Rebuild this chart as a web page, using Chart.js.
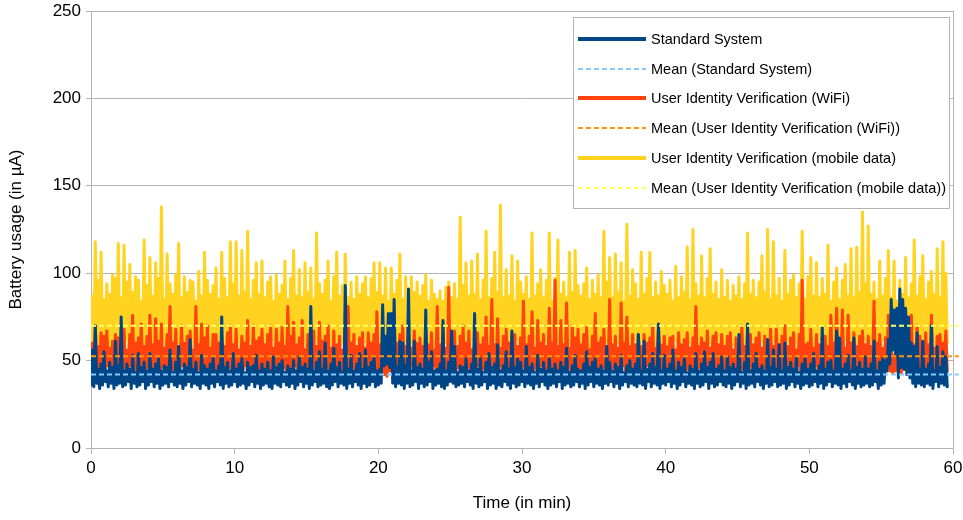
<!DOCTYPE html>
<html>
<head>
<meta charset="utf-8">
<title>Battery usage</title>
<script src="https://cdn.jsdelivr.net/npm/chart.js@4.4.0/dist/chart.umd.min.js"></script>
<style>
  html, body { margin: 0; padding: 0; background: #fff; }
</style>
</head>
<body>
<canvas id="usageChart" width="963" height="520"></canvas>
<script>
// one reading every 6 seconds
const sampleStep = 0.1

const standardSystem = [
  36, 56, 35, 70, 37, 45, 34, 48, 36, 55, 38, 44, 35, 49, 37, 46, 34, 61, 36, 47,
  37, 75, 35, 44, 36, 48, 38, 45, 34, 53, 37, 43, 35, 54, 36, 46, 38, 49, 34, 44,
  36, 54, 38, 45, 35, 48, 37, 51, 34, 44, 36, 47, 37, 46, 35, 56, 38, 43, 36, 49,
  35, 58, 37, 44, 34, 48, 36, 46, 38, 62, 35, 45, 37, 49, 36, 43, 34, 53, 37, 47,
  36, 45, 34, 48, 37, 52, 35, 44, 38, 47, 36, 75, 34, 46, 37, 49, 35, 44, 36, 54,
  38, 45, 35, 48, 36, 51, 37, 43, 34, 49, 36, 46, 38, 47, 35, 53, 37, 44, 34, 48,
  36, 45, 37, 49, 35, 44, 34, 52, 37, 46, 36, 48, 35, 50, 38, 43, 36, 47, 35, 45,
  37, 50, 34, 44, 36, 52, 38, 46, 35, 48, 37, 45, 34, 81, 36, 44, 38, 49, 35, 55,
  36, 45, 37, 60, 35, 44, 34, 48, 36, 57, 38, 46, 35, 49, 37, 43, 36, 93, 34, 45,
  37, 53, 35, 44, 38, 48, 36, 54, 34, 45, 37, 56, 35, 46, 36, 49, 38, 52, 35, 44,
  36, 45, 37, 82, 47, 64, 48, 77, 46, 77, 37, 85, 35, 46, 37, 61, 36, 60, 34, 47,
  37, 91, 35, 44, 36, 61, 38, 46, 34, 48, 37, 45, 35, 79, 36, 49, 38, 55, 34, 44,
  36, 45, 37, 48, 35, 73, 34, 44, 36, 49, 38, 67, 37, 58, 35, 43, 36, 47, 37, 46,
  35, 51, 38, 44, 36, 48, 34, 77, 37, 45, 35, 51, 36, 43, 38, 49, 34, 54, 36, 46,
  37, 48, 34, 59, 36, 44, 35, 47, 38, 55, 36, 45, 34, 67, 37, 46, 35, 51, 36, 49,
  38, 44, 35, 58, 37, 46, 36, 48, 34, 43, 37, 53, 35, 45, 38, 49, 36, 44, 34, 51,
  36, 45, 37, 48, 35, 44, 38, 49, 34, 46, 36, 57, 37, 43, 35, 47, 36, 53, 38, 45,
  35, 44, 37, 48, 34, 55, 36, 46, 38, 49, 35, 51, 37, 45, 36, 47, 34, 44, 37, 58,
  36, 49, 38, 44, 35, 48, 37, 46, 34, 53, 36, 43, 38, 47, 35, 50, 37, 45, 36, 48,
  35, 65, 37, 44, 36, 61, 34, 45, 38, 48, 35, 54, 37, 46, 36, 71, 34, 44, 37, 53,
  36, 45, 38, 48, 35, 56, 37, 44, 34, 49, 36, 46, 38, 51, 35, 43, 37, 47, 36, 45,
  34, 54, 37, 44, 35, 48, 36, 55, 38, 46, 34, 49, 37, 54, 35, 45, 36, 47, 38, 52,
  36, 44, 35, 52, 37, 46, 34, 48, 36, 45, 38, 65, 35, 43, 37, 49, 34, 71, 36, 44,
  37, 48, 35, 54, 38, 45, 36, 47, 34, 44, 37, 62, 35, 46, 36, 56, 38, 45, 35, 59,
  36, 44, 37, 60, 34, 46, 36, 49, 38, 45, 35, 52, 37, 43, 34, 48, 36, 51, 37, 45,
  35, 48, 36, 54, 38, 44, 35, 47, 37, 69, 34, 45, 36, 49, 38, 50, 35, 44, 37, 67,
  36, 63, 34, 45, 37, 48, 35, 53, 38, 44, 36, 63, 34, 46, 37, 49, 35, 45, 36, 52,
  37, 45, 35, 48, 36, 61, 38, 44, 34, 49, 36, 51, 37, 50, 44, 62, 48, 85, 56, 79,
  54, 80, 40, 91, 46, 85, 45, 80, 42, 75, 40, 60, 37, 58, 35, 66, 37, 45, 36, 61,
  35, 45, 37, 48, 36, 70, 34, 44, 38, 58, 35, 46, 37, 55, 36, 52, 35
]

const wifiVerification = [
  45, 60, 43, 70, 46, 58, 44, 66, 42, 64, 45, 67, 47, 57, 43, 61, 44, 65, 46, 63,
  44, 59, 46, 68, 43, 56, 45, 65, 47, 76, 42, 60, 44, 63, 46, 71, 43, 58, 45, 64,
  46, 76, 43, 59, 45, 74, 44, 61, 42, 71, 46, 57, 47, 65, 43, 81, 45, 60, 44, 68,
  43, 58, 45, 70, 47, 60, 42, 64, 44, 67, 46, 56, 43, 81, 45, 59, 44, 71, 46, 63,
  45, 70, 43, 57, 46, 65, 44, 65, 42, 60, 47, 63, 45, 58, 43, 66, 46, 70, 44, 59,
  43, 68, 46, 56, 44, 64, 45, 60, 47, 73, 42, 58, 44, 70, 46, 61, 43, 63, 45, 68,
  46, 59, 44, 65, 42, 70, 45, 57, 43, 68, 47, 60, 44, 69, 46, 58, 43, 81, 45, 64,
  44, 72, 47, 59, 43, 63, 45, 73, 46, 56, 42, 65, 45, 60, 44, 67, 46, 58, 43, 72,
  45, 61, 43, 64, 46, 70, 44, 57, 42, 67, 45, 59, 47, 64, 43, 56, 44, 66, 46, 81,
  44, 60, 46, 65, 43, 58, 45, 63, 47, 66, 42, 57, 44, 66, 46, 60, 43, 65, 45, 78,
  44, 59, 45, 63, 42, 58, 41, 56, 44, 64, 46, 72, 43, 60, 45, 65, 44, 70, 46, 58,
  43, 64, 45, 57, 47, 67, 44, 60, 42, 63, 46, 58, 43, 67, 45, 59, 44, 66, 47, 56,
  45, 81, 43, 59, 46, 66, 44, 57, 42, 92, 45, 60, 47, 67, 43, 58, 46, 64, 44, 70,
  43, 60, 46, 67, 44, 56, 42, 65, 45, 66, 47, 59, 43, 63, 45, 75, 44, 58, 46, 85,
  45, 59, 43, 74, 47, 57, 44, 64, 42, 68, 46, 60, 44, 65, 43, 65, 45, 58, 47, 63,
  44, 84, 46, 59, 43, 64, 45, 78, 42, 57, 46, 73, 44, 60, 47, 65, 43, 58, 45, 80,
  46, 60, 43, 96, 45, 58, 44, 73, 42, 59, 45, 83, 47, 57, 43, 70, 46, 63, 44, 68,
  43, 59, 45, 65, 47, 69, 44, 56, 42, 64, 46, 77, 43, 60, 45, 63, 44, 68, 46, 58,
  45, 85, 43, 59, 46, 64, 44, 57, 42, 83, 47, 60, 44, 75, 46, 58, 43, 65, 45, 59,
  44, 65, 46, 58, 43, 65, 45, 60, 47, 63, 42, 70, 44, 57, 46, 70, 43, 59, 45, 64,
  46, 58, 43, 63, 45, 64, 44, 56, 42, 66, 46, 59, 47, 62, 43, 66, 45, 57, 44, 63,
  43, 81, 45, 58, 46, 63, 44, 60, 42, 67, 45, 57, 47, 64, 43, 66, 44, 59, 46, 65,
  45, 58, 43, 64, 47, 66, 44, 56, 42, 63, 46, 60, 43, 70, 45, 58, 44, 65, 47, 65,
  44, 59, 46, 63, 43, 66, 45, 57, 42, 64, 46, 60, 44, 68, 47, 58, 43, 68, 45, 59,
  46, 64, 43, 70, 45, 58, 44, 63, 42, 66, 46, 56, 47, 65, 43, 96, 45, 59, 44, 60,
  43, 68, 45, 57, 47, 65, 44, 59, 42, 63, 46, 64, 43, 58, 45, 76, 44, 60, 46, 80,
  45, 59, 43, 79, 46, 57, 44, 76, 42, 60, 45, 66, 47, 58, 43, 64, 46, 67, 44, 59,
  43, 64, 45, 58, 44, 84, 46, 60, 42, 65, 45, 57, 43, 63, 47, 76, 44, 59, 43, 53,
  44, 58, 46, 63, 43, 60, 45, 65, 42, 57, 44, 76, 46, 59, 43, 70, 45, 64, 44, 58,
  46, 66, 43, 59, 45, 76, 44, 57, 42, 64, 46, 65, 43, 60, 45, 67, 44
]

const mobileVerification = [
  60, 87, 57, 118, 61, 96, 56, 112, 59, 85, 62, 94, 55, 88, 58, 99, 60, 97, 57, 117,
  59, 86, 56, 116, 62, 95, 58, 105, 55, 89, 60, 98, 57, 96, 61, 84, 56, 119, 59, 93,
  58, 109, 61, 87, 55, 106, 60, 97, 57, 138, 62, 85, 56, 111, 59, 94, 61, 88, 57, 99,
  60, 117, 56, 86, 59, 98, 62, 89, 55, 96, 58, 95, 61, 84, 57, 101, 60, 87, 56, 112,
  62, 96, 58, 88, 55, 93, 61, 103, 57, 85, 60, 112, 56, 97, 59, 86, 62, 118, 58, 94,
  56, 118, 61, 87, 57, 113, 60, 89, 55, 124, 62, 85, 58, 96, 56, 106, 61, 88, 59, 107,
  57, 86, 60, 95, 55, 98, 62, 84, 58, 99, 56, 88, 61, 93, 59, 107, 57, 85, 60, 97,
  58, 113, 62, 87, 56, 102, 59, 86, 61, 106, 55, 89, 60, 103, 57, 85, 62, 123, 58, 94,
  55, 88, 61, 96, 57, 107, 60, 84, 56, 98, 62, 112, 58, 87, 59, 93, 61, 111, 56, 86,
  60, 95, 57, 85, 62, 98, 55, 88, 59, 94, 61, 98, 56, 86, 60, 97, 58, 106, 62, 89,
  57, 106, 59, 87, 56, 103, 61, 84, 58, 103, 60, 88, 55, 96, 62, 111, 57, 85, 59, 98,
  61, 86, 56, 98, 60, 89, 58, 95, 62, 87, 55, 93, 59, 99, 57, 84, 61, 96, 56, 88,
  58, 85, 62, 90, 55, 84, 60, 92, 57, 95, 61, 86, 56, 94, 59, 85, 62, 132, 58, 93,
  56, 106, 60, 87, 57, 107, 62, 88, 55, 111, 59, 85, 61, 96, 58, 124, 56, 86, 60, 97,
  62, 112, 57, 89, 59, 139, 55, 86, 61, 102, 58, 87, 60, 110, 56, 84, 62, 107, 57, 95,
  59, 88, 61, 98, 56, 85, 60, 123, 57, 87, 62, 94, 55, 102, 59, 86, 61, 96, 58, 123,
  60, 84, 57, 97, 62, 119, 56, 88, 58, 95, 61, 86, 55, 112, 60, 89, 57, 113, 62, 93,
  56, 87, 59, 94, 61, 103, 58, 85, 55, 96, 60, 88, 62, 99, 57, 86, 59, 124, 61, 95,
  57, 109, 62, 86, 55, 111, 60, 89, 58, 106, 56, 84, 61, 128, 59, 87, 57, 102, 62, 94,
  58, 85, 55, 112, 61, 88, 57, 97, 60, 112, 62, 86, 56, 95, 59, 87, 58, 101, 61, 93,
  56, 88, 60, 96, 57, 84, 62, 104, 55, 86, 59, 98, 61, 89, 57, 115, 60, 85, 56, 125,
  62, 94, 58, 87, 55, 110, 61, 86, 57, 97, 60, 114, 56, 88, 59, 95, 62, 85, 58, 102,
  60, 86, 57, 96, 61, 84, 56, 93, 59, 87, 62, 98, 55, 85, 58, 94, 60, 123, 57, 88,
  62, 96, 56, 86, 59, 95, 61, 110, 57, 89, 60, 125, 58, 85, 55, 118, 61, 87, 59, 97,
  57, 84, 60, 113, 62, 88, 56, 96, 58, 99, 61, 86, 55, 94, 59, 124, 60, 85, 57, 98,
  61, 109, 58, 87, 56, 106, 60, 86, 62, 97, 57, 88, 59, 116, 55, 84, 61, 95, 58, 103,
  60, 85, 56, 96, 59, 105, 62, 87, 57, 114, 61, 86, 55, 115, 60, 89, 58, 135, 62, 94,
  56, 127, 59, 88, 61, 95, 57, 85, 60, 107, 58, 87, 62, 97, 56, 113, 59, 86, 61, 107,
  57, 84, 62, 96, 55, 88, 60, 109, 58, 86, 61, 94, 56, 119, 59, 87, 62, 98, 57, 110,
  60, 85, 56, 95, 59, 101, 61, 88, 57, 114, 62, 86, 58, 118, 55, 100, 60
]

const meanStandard = 42
const meanWifi = 52.5
const meanMobile = 70

const xTicks = [0, 10, 20, 30, 40, 50, 60]
const yTicks = [0, 50, 100, 150, 200, 250]

const fontFamily = '"Liberation Sans", Arial, sans-serif'
const gridGray = '#b3b3b3'

Chart.defaults.font.family = fontFamily
Chart.defaults.color = '#000'

const toPoints = values => values.map((v, i) => ({ x: Math.round(i * sampleStep * 10) / 10, y: v }))
// mean lines run a few pixels past the right edge of the plot
const meanLine = level => [{ x: 0, y: level }, { x: 60.4, y: level }]

const traceStyle = color => ({
    borderColor: color,
    borderWidth: 3,
    borderJoinStyle: 'round',
    borderCapStyle: 'round',
})
const meanStyle = color => ({
    borderColor: color,
    borderWidth: 2,
    borderDash: [5, 3],
    borderCapStyle: 'butt',
    clip: { left: 0, top: 0, right: 8, bottom: 0 },
    order: 0,
})

// keep the plot area where the layout padding puts it
const noScalePadding = s => {
    s.paddingLeft = 0
    s.paddingRight = 0
    s.paddingTop = 0
    s.paddingBottom = 0
}

// right edge of the frame, plus the boxed legend in the top-right corner
const frameAndLegend = {
    id: 'frameAndLegend',
    beforeDatasetsDraw(chart) {
        const { ctx, chartArea } = chart
        ctx.save()
        ctx.strokeStyle = gridGray
        ctx.lineWidth = 1
        ctx.beginPath()
        ctx.moveTo(chartArea.right + 0.5, chartArea.top)
        ctx.lineTo(chartArea.right + 0.5, chartArea.bottom)
        ctx.stroke()
        ctx.restore()
    },
    afterDraw(chart) {
        const { ctx, chartArea } = chart
        const left = Math.round(chartArea.right) - 380
        const top = Math.round(chartArea.top) + 6
        const width = 376
        const height = 191
        ctx.save()
        ctx.fillStyle = '#fff'
        ctx.fillRect(left, top, width, height)
        ctx.strokeStyle = gridGray
        ctx.lineWidth = 1
        ctx.strokeRect(left + 0.5, top + 0.5, width, height)
        ctx.font = '14.5px ' + fontFamily
        ctx.textBaseline = 'middle'
        chart.data.datasets.forEach((ds, i) => {
            const y = Math.round(top + 22 + i * 29.7)
            ctx.beginPath()
            ctx.setLineDash(ds.borderDash || [])
            ctx.lineWidth = ds.borderDash ? 2 : 4
            ctx.strokeStyle = ds.borderColor
            ctx.moveTo(left + 5, y)
            ctx.lineTo(left + 73, y)
            ctx.stroke()
            ctx.setLineDash([])
            ctx.fillStyle = '#000'
            ctx.fillText(ds.label, left + 78, y + 1)
        })
        ctx.restore()
    }
}

new Chart(document.getElementById('usageChart'), {
    type: 'line',
    data: {
        datasets: [
            { label: 'Standard System', data: toPoints(standardSystem), ...traceStyle('#004586'), order: 1 },
            { label: 'Mean (Standard System)', data: meanLine(meanStandard), ...meanStyle('#83caff') },
            { label: 'User Identity Verification (WiFi)', data: toPoints(wifiVerification), ...traceStyle('#ff420e'), order: 2 },
            { label: 'Mean (User Identity Verification (WiFi))', data: meanLine(meanWifi), ...meanStyle('#ff950e') },
            { label: 'User Identity Verification (mobile data)', data: toPoints(mobileVerification), ...traceStyle('#ffd320'), order: 3 },
            { label: 'Mean (User Identity Verification (mobile data))', data: meanLine(meanMobile), ...meanStyle('#ffff66') },
        ]
    },
    options: {
        responsive: false,
        animation: false,
        devicePixelRatio: 1,
        layout: { padding: { top: 11, right: 10, left: 0, bottom: 0 } },
        elements: { point: { radius: 0 }, line: { tension: 0 } },
        plugins: { legend: { display: false }, tooltip: { enabled: false } },
        scales: {
            x: {
                type: 'linear',
                min: 0,
                max: 60,
                afterBuildTicks: s => { s.ticks = xTicks.map(v => ({ value: v })) },
                afterFit: s => { s.height = 72; noScalePadding(s) },
                grid: { drawOnChartArea: false, tickLength: 6, color: gridGray },
                border: { color: gridGray },
                ticks: { font: { size: 17 }, color: '#000', padding: 4, maxRotation: 0 },
                title: { display: true, text: 'Time (in min)', font: { size: 17 }, color: '#000', padding: { top: 0, bottom: 6 } }
            },
            y: {
                min: 0,
                max: 250,
                afterBuildTicks: s => { s.ticks = yTicks.map(v => ({ value: v })) },
                afterFit: s => { s.width = 91; noScalePadding(s) },
                grid: { color: gridGray, tickLength: 5 },
                border: { color: gridGray },
                ticks: { font: { size: 17 }, color: '#000', padding: 5 },
                title: { display: true, text: 'Battery usage (in µA)', font: { size: 17 }, color: '#000', padding: { top: 6, bottom: 0 } }
            }
        }
    },
    plugins: [frameAndLegend]
})
</script>
</body>
</html>
